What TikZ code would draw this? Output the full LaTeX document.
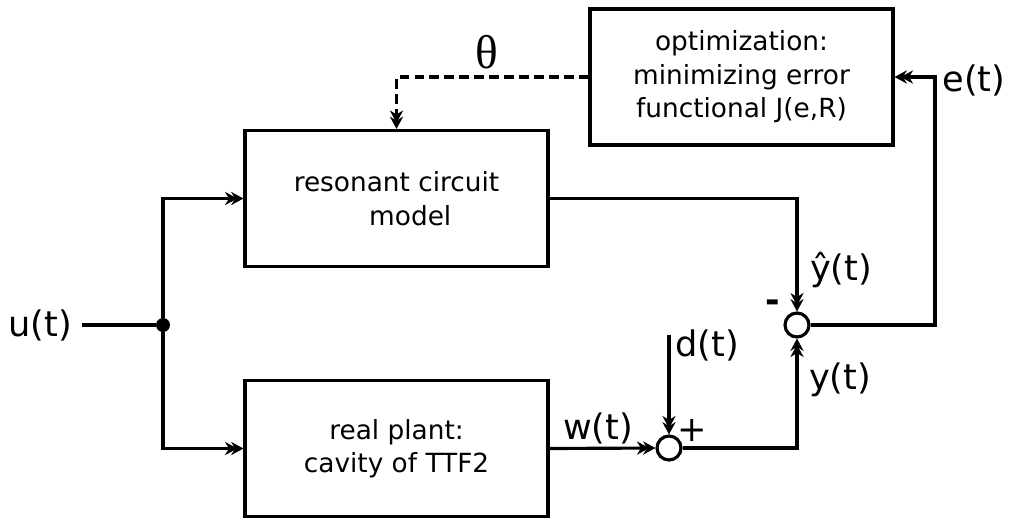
\documentclass[tikz,border=0pt]{standalone}
\usepackage{fontspec}
\setmainfont{DejaVu Sans}
\newfontfamily\thetafont{Liberation Serif}
\usetikzlibrary{arrows.meta,positioning,calc}

\begin{document}
\begin{tikzpicture}[x=0.02cm,y=-0.02cm,
  font=\fontsize{15}{19}\selectfont,
  blk/.style={draw,line width=1.8pt,minimum width=6.06cm,minimum height=2.72cm,
              inner sep=0pt,align=center},
  sumnode/.style={draw,circle,line width=1.8pt,minimum size=0.48cm,inner sep=0pt},
  dotnode/.style={circle,fill,minimum size=0.28cm,inner sep=0pt},
  sig/.style={line width=1.8pt,
              -{Stealth[length=7pt,width=7.5pt,sep=-3.5pt]Stealth[length=7pt,width=7.5pt]}},
  lbl/.style={font=\fontsize{20}{24}\selectfont,inner sep=2pt}]
  \useasboundingbox (0,0) rectangle (1011,518);

  % blocks
  \node[blk] (opt) at (741.5,77) {optimization:\\minimizing error\\functional J(e,R)};
  \node[blk] (model) at (396.5,198.5) {resonant circuit\\\hspace*{0.55cm}model};
  \node[blk] (plant) at (396.5,448.5) {real plant:\\cavity of TTF2};

  % junctions
  \node[dotnode] (split) at (163,325) {};
  \node[sumnode] (sum1) at (669,448) {};
  \node[sumnode] (sum2) at (797,325) {};
  \coordinate (din) at (669,335);
  \coordinate (etap) at (935,325);

  % signals
  \node[lbl] (uin) at (40,325) {u(t)};
  \draw[line width=1.8pt] (uin.east)++(6,0) -- (split);
  \draw[sig] (split) |- (model.west);
  \draw[sig] (split) |- (plant.west);
  \draw[sig] (plant.east) -- (sum1.west);
  \draw[sig] (din) -- (sum1.north);
  \draw[sig] (sum1.east) -| (sum2.south);
  \draw[sig] (model.east) -| (sum2.north);
  \draw[sig] (sum2.east) -- (etap) |- (opt.east);
  \draw[sig,dashed,dash pattern=on 5.5pt off 3pt] (opt.west) -| (model.north);

  % labels
  \node[lbl] (wlab) at (598,428) {w(t)};
  \node[lbl] (dlab) at (707,345) {d(t)};
  \node[lbl] (yhlab) at (841,270) {ŷ(t)};
  \node[lbl] (ylab) at (840,380) {y(t)};
  \node[lbl] (elab) at (974,80) {e(t)};
  \node[font=\thetafont\fontsize{27}{30}\selectfont] (th) at (487,52) {θ};
  \node[lbl,font=\bfseries\fontsize{20}{24}\selectfont] (minus) at (773,306) {-};
  \node[lbl] (plus) at (692,430) {+};
\end{tikzpicture}
\end{document}
